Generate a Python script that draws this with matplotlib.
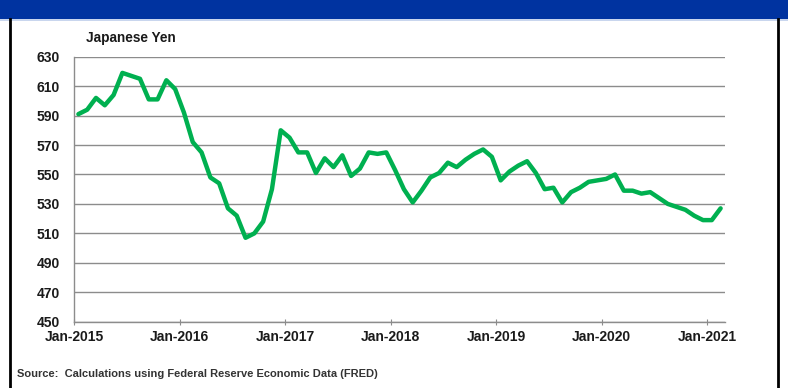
import matplotlib.pyplot as plt
import matplotlib.patches as patches
import numpy as np

# Monthly yen values, Jan-2015 .. Feb-2021
yen = [591, 594, 602, 597, 604, 619, 617, 615, 601, 601, 614, 608,
       592, 572, 565, 548, 544, 527, 522, 507, 510, 518, 540, 580,
       575, 565, 565, 551, 561, 555, 563, 549, 554, 565, 564, 565,
       553, 540, 531, 539, 548, 551, 558, 555, 560, 564, 567, 562,
       546, 552, 556, 559, 551, 540, 541, 531, 538, 541, 545, 546,
       547, 550, 539, 539, 537, 538, 534, 530, 528, 526, 522, 519,
       519, 527]
tick_labels = ['Jan-2015', 'Jan-2016', 'Jan-2017', 'Jan-2018',
               'Jan-2019', 'Jan-2020', 'Jan-2021']
y_ticks = [450, 470, 490, 510, 530, 550, 570, 590, 610, 630]

plt.rcParams['font.family'] = ['Liberation Sans', 'DejaVu Sans']

fig = plt.figure(figsize=(7.88, 3.88), dpi=100)

# blue banner at the top (title is cut off in the original)
fig.patches.append(patches.Rectangle((0, 1 - 19 / 388), 1, 19 / 388,
                                     transform=fig.transFigure,
                                     facecolor='#0033a0', edgecolor='none'))
fig.patches.append(patches.Rectangle((0, 1 - 21 / 388), 1, 2 / 388,
                                     transform=fig.transFigure,
                                     facecolor='#c9d6ee', edgecolor='none'))
# frame borders left / right
fig.lines.append(plt.Line2D([10 / 788, 10 / 788], [0, 1 - 19 / 388],
                            transform=fig.transFigure, color='black', lw=2))
fig.lines.append(plt.Line2D([778 / 788, 778 / 788], [0, 1 - 19 / 388],
                            transform=fig.transFigure, color='black', lw=2))

ax = fig.add_axes([74 / 788, 1 - 321.7 / 388, (725 - 74) / 788,
                   (321.7 - 56.7) / 388])

x = np.arange(len(yen)) + 0.5
ax.plot(x, yen, color='#00b050', lw=3.2, solid_joinstyle='round',
        solid_capstyle='round', zorder=3)

ax.set_xlim(0, len(yen))
ax.set_ylim(450, 630)
ax.set_yticks(y_ticks)
ax.set_yticklabels([str(v) for v in y_ticks], fontsize=10, fontweight='bold',
                   color='#1a1a1a')
ax.set_xticks(np.arange(len(tick_labels)) * 12)
ax.set_xticklabels(tick_labels, fontsize=10, fontweight='bold', color='#1a1a1a')

ax.grid(axis='y', color='#8c8c8c', lw=1)
ax.set_axisbelow(True)
for s in ['top', 'right']:
    ax.spines[s].set_visible(False)
for s in ['left', 'bottom']:
    ax.spines[s].set_color('#8c8c8c')
    ax.spines[s].set_linewidth(1)
ax.tick_params(axis='y', length=0, pad=10)
ax.tick_params(axis='x', length=4, color='#8c8c8c', direction='inout', pad=4)

fig.text(86 / 788, 1 - 38 / 388, 'Japanese Yen', fontsize=9.8,
         fontweight='bold', color='#1a1a1a', va='center')
fig.text(17 / 788, 1 - 374 / 388,
         'Source:  Calculations using Federal Reserve Economic Data (FRED)',
         fontsize=8, fontweight='bold', color='#333333', va='center')

fig.savefig('out.png', dpi=100)
